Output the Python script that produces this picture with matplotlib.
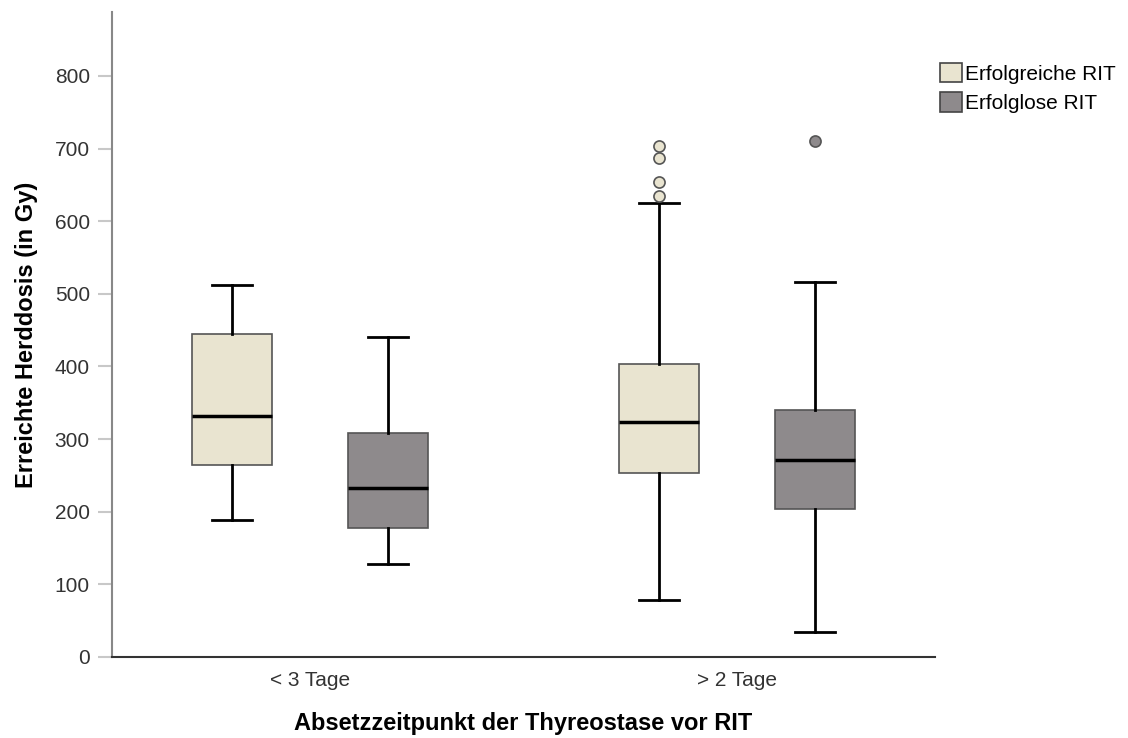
import matplotlib
matplotlib.use("Agg")
import matplotlib.pyplot as plt
from matplotlib.patches import Patch

categories = ["< 3 Tage", "> 2 Tage"]
series = ["Erfolgreiche RIT", "Erfolglose RIT"]
colors = ["#E9E4D0", "#8E8A8C"]

# [low whisker, Q1, median, Q3, high whisker] per category
erfolgreich = [[189, 264, 332, 444, 512], [78, 253, 323, 404, 625]]
erfolglos = [[128, 178, 233, 309, 441], [34, 204, 271, 340, 516]]
erfolgreich_out = [[], [704, 687, 654, 634]]
erfolglos_out = [[], [711]]

plt.rcParams['font.family'] = ['Liberation Sans', 'DejaVu Sans']
fig = plt.figure(figsize=(11.28, 7.38), dpi=100)
ax = fig.add_axes([0.0993, 0.1098, 0.7297, 0.874])

offset = 0.183
width = 0.187
for si, (data, outs) in enumerate([(erfolgreich, erfolgreich_out), (erfolglos, erfolglos_out)]):
    stats = []
    for ci in range(len(categories)):
        lo, q1, med, q3, hi = data[ci]
        stats.append(dict(whislo=lo, q1=q1, med=med, q3=q3, whishi=hi, fliers=outs[ci]))
    pos = [ci + (-offset if si == 0 else offset) for ci in range(len(categories))]
    ax.bxp(stats, positions=pos, widths=width, patch_artist=True, showfliers=True,
           boxprops=dict(facecolor=colors[si], edgecolor="#555555", linewidth=1.2),
           medianprops=dict(color="black", linewidth=2.5),
           whiskerprops=dict(color="black", linewidth=2),
           capprops=dict(color="black", linewidth=2),
           capwidths=width / 2,
           flierprops=dict(marker="o", markerfacecolor=colors[si], markeredgecolor="#555555",
                           markersize=8, markeredgewidth=1.2))

ax.set_xlim(-0.464, 1.464)
ax.set_ylim(0, 888)
ax.set_yticks(range(0, 801, 100))
ax.set_xticks(range(len(categories)))
ax.set_xticklabels(categories)
ax.tick_params(axis='x', length=0, pad=10, labelsize=15, labelcolor="#333333")
ax.tick_params(axis='y', length=10, width=1.5, color="#C8C8C8", pad=6, labelsize=15, labelcolor="#333333")
for s in ["top", "right"]:
    ax.spines[s].set_visible(False)
ax.spines["left"].set_color("#888888")
ax.spines["left"].set_linewidth(1.5)
ax.spines["bottom"].set_color("#333333")
ax.spines["bottom"].set_linewidth(1.5)

ax.set_ylabel("Erreichte Herddosis (in Gy)", fontsize=17, fontweight="bold", labelpad=12)
ax.set_xlabel("Absetzzeitpunkt der Thyreostase vor RIT", fontsize=17, fontweight="bold", labelpad=16)

handles = [Patch(facecolor=colors[i], edgecolor="#444444", linewidth=1.2, label=series[i]) for i in range(2)]
fig.legend(handles=handles, loc="upper left", bbox_to_anchor=(0.8333, 0.915), frameon=False,
           borderpad=0, borderaxespad=0,
           fontsize=15, handlelength=1.05, handleheight=1.05, handletextpad=0.15, labelspacing=0.42)

fig.savefig("out.png", dpi=100)
